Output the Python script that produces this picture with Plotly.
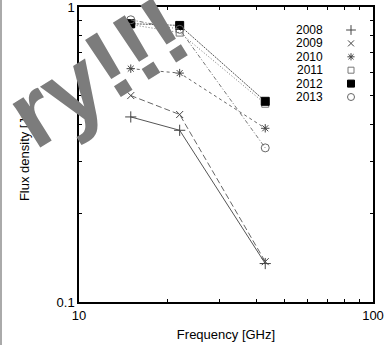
import plotly.graph_objects as go

# Observing frequencies (GHz) and flux densities (Jy) per epoch
freq_ghz = [15, 22, 43]
years = ["2008", "2009", "2010", "2011", "2012", "2013"]
flux_2008 = [0.424, 0.382, 0.135]
flux_2009 = [0.501, 0.432, 0.137]
flux_2010 = [0.618, 0.597, 0.388]
flux_2011 = [0.872, 0.819, 0.470]
flux_2012 = [0.878, 0.866, 0.479]
flux_2013 = [0.905, 0.840, 0.333]
series = [flux_2008, flux_2009, flux_2010, flux_2011, flux_2012, flux_2013]

x_ticks = [10, 100]
y_ticks = [0.1, 1]
x_minor = [20, 30, 40, 50, 60, 70, 80, 90]
y_minor = [0.2, 0.3, 0.4, 0.5, 0.6, 0.7, 0.8, 0.9]

styles = [
    dict(symbol="cross-thin-open", size=8, dash="solid", color="#444444", lc="#555555"),
    dict(symbol="x-thin-open", size=7, dash="6px,3px", color="#444444", lc="#666666"),
    dict(symbol="asterisk-open", size=7, dash="3px,3px", color="#444444", lc="#666666"),
    dict(symbol="square-open", size=7, dash="1px,2px", color="#777777", lc="#777777"),
    dict(symbol="square", size=8, dash="2px,1px", color="#000000", lc="#555555"),
    dict(symbol="circle-open", size=8, dash="4px,2px,1px,2px", color="#666666", lc="#777777"),
]

fig = go.Figure()
for yr, vals, st in zip(years, series, styles):
    fig.add_trace(go.Scatter(
        x=freq_ghz, y=vals, mode="lines+markers", name=yr,
        line=dict(color=st["lc"], width=1, dash=st["dash"]),
        marker=dict(symbol=st["symbol"], size=st["size"], color=st["color"],
                    line=dict(color=st["color"], width=1)),
        showlegend=False,
    ))

# Key: year labels with their point symbols, on a hidden unit overlay axis
for i, (yr, st) in enumerate(zip(years, styles)):
    ky = 1 - (30 + 13.4 * i - 7) / 295
    fig.add_trace(go.Scatter(
        x=[(351 - 79) / 294], y=[ky], xaxis="x2", yaxis="y2", mode="markers",
        marker=dict(symbol=st["symbol"], size=st["size"] - 1, color=st["color"],
                    line=dict(color=st["color"], width=1)),
        showlegend=False, hoverinfo="skip",
    ))
    fig.add_annotation(x=(325 - 79) / 294, y=ky, xref="x2", yref="y2", text=yr,
                       showarrow=False, xanchor="right", yanchor="middle",
                       font=dict(family="Liberation Sans, Arial", size=12, color="#000"))

axis_common = dict(
    type="log", showline=True, linecolor="#000", linewidth=1.5, mirror="ticks",
    ticks="inside", ticklen=6, tickwidth=1, tickcolor="#000",
    showgrid=False, zeroline=False, automargin=False, ticklabeloverflow="allow",
    tickfont=dict(family="Liberation Sans, Arial", size=13, color="#000"),
    minor=dict(ticks="inside", ticklen=3, tickwidth=1, tickcolor="#000", showgrid=False),
)

fig.update_layout(
    width=389, height=345,
    margin=dict(l=79, r=16, t=7, b=43, autoexpand=False),
    paper_bgcolor="white", plot_bgcolor="white",
    xaxis=dict(axis_common, range=[1, 2], tickmode="array", tickvals=x_ticks,
               ticktext=[str(v) for v in x_ticks], ticklabelstandoff=1,
               minor=dict(axis_common["minor"], tickmode="array", tickvals=x_minor),
               title=dict(text="Frequency [GHz]", standoff=8,
                          font=dict(family="Liberation Sans, Arial", size=13, color="#000"))),
    yaxis=dict(axis_common, range=[-1, 0], tickmode="array", tickvals=y_ticks,
               ticktext=["0.1", "1"],
               minor=dict(axis_common["minor"], tickmode="array", tickvals=y_minor),
               title=dict(text="Flux density [Jy]", standoff=24,
                          font=dict(family="Liberation Sans, Arial", size=13, color="#000"))),
    xaxis2=dict(overlaying="x", range=[0, 1], visible=False),
    yaxis2=dict(overlaying="y", range=[0, 1], visible=False),
)

# Page edge line on the left
fig.add_shape(type="line", xref="paper", yref="paper", x0=-78 / 294, x1=-78 / 294,
              y0=-43 / 295, y1=1 + 7 / 295, line=dict(color="#aaaaaa", width=2))

# Large overlaid caption
fig.add_annotation(xref="paper", yref="paper", x=(97 - 79) / 294, y=1 - (72 - 7) / 295,
                   xanchor="center", yanchor="middle",
                   text="<b>ry!!!</b>", showarrow=False, textangle=-32,
                   font=dict(family="Liberation Sans, Arial", size=98, color="#7c7c7c"))

fig.write_html("out.html")
